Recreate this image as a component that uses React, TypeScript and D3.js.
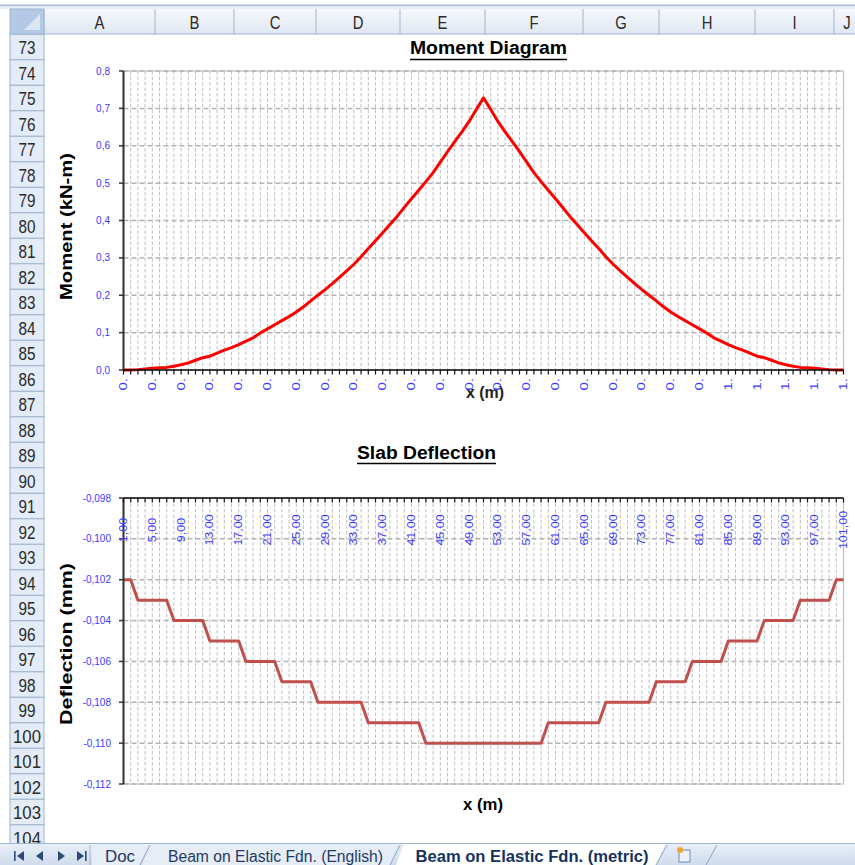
import React from "react";
import * as d3 from "d3";

// ---- sheet frame ----
const rowNumbers = d3.range(73, 105);
const columnLetters = ["A", "B", "C", "D", "E", "F", "G", "H", "I", "J"];
const columnEdges = [44, 155, 234, 316, 400, 485, 583, 659, 755, 834, 860];
const sheetTabs = ["Doc", "Beam on Elastic Fdn. (English)", "Beam on Elastic Fdn. (metric)"];

// ---- Moment Diagram (kN-m), 101 stations along the beam ----
const momentValues = [
  0.000, 0.000, 0.001, 0.003, 0.005, 0.006, 0.007, 0.010, 0.014, 0.019,
  0.026, 0.033, 0.037, 0.045, 0.053, 0.060, 0.068, 0.077, 0.086, 0.099,
  0.110, 0.121, 0.132, 0.143, 0.155, 0.169, 0.185, 0.200, 0.215, 0.231,
  0.248, 0.265, 0.283, 0.303, 0.325, 0.346, 0.367, 0.389, 0.411, 0.435,
  0.458, 0.481, 0.504, 0.528, 0.556, 0.584, 0.611, 0.637, 0.665, 0.697,
  0.728,
  0.697, 0.665, 0.637, 0.611, 0.584, 0.556, 0.528, 0.504, 0.481, 0.458,
  0.435, 0.411, 0.389, 0.367, 0.346, 0.325, 0.303, 0.283, 0.265, 0.248,
  0.231, 0.215, 0.200, 0.185, 0.169, 0.155, 0.143, 0.132, 0.121, 0.110,
  0.099, 0.086, 0.077, 0.068, 0.060, 0.053, 0.045, 0.037, 0.033, 0.026,
  0.019, 0.014, 0.010, 0.007, 0.006, 0.005, 0.003, 0.001, 0.000, 0.000,
];
// truncated station labels, one every 4th station
const momentTickLabels = [
  "0.", "0.", "0.", "0.", "0.", "0.", "0.", "0.", "0.", "0.", "0.", "0.", "0.",
  "0.", "0.", "0.", "0.", "0.", "0.", "0.", "0.", "1.", "1.", "1.", "1.", "1.",
];
const momentYTicks = [0, 0.1, 0.2, 0.3, 0.4, 0.5, 0.6, 0.7, 0.8];

// ---- Slab Deflection (mm) ----
const deflectionValues = [
  -0.102, -0.102,
  -0.103, -0.103, -0.103, -0.103, -0.103,
  -0.104, -0.104, -0.104, -0.104, -0.104,
  -0.105, -0.105, -0.105, -0.105, -0.105,
  -0.106, -0.106, -0.106, -0.106, -0.106,
  -0.107, -0.107, -0.107, -0.107, -0.107,
  -0.108, -0.108, -0.108, -0.108, -0.108, -0.108, -0.108,
  -0.109, -0.109, -0.109, -0.109, -0.109, -0.109, -0.109, -0.109,
  -0.110, -0.110, -0.110, -0.110, -0.110, -0.110, -0.110, -0.110, -0.110,
  -0.110, -0.110, -0.110, -0.110, -0.110, -0.110, -0.110, -0.110,
  -0.109, -0.109, -0.109, -0.109, -0.109, -0.109, -0.109, -0.109,
  -0.108, -0.108, -0.108, -0.108, -0.108, -0.108, -0.108,
  -0.107, -0.107, -0.107, -0.107, -0.107,
  -0.106, -0.106, -0.106, -0.106, -0.106,
  -0.105, -0.105, -0.105, -0.105, -0.105,
  -0.104, -0.104, -0.104, -0.104, -0.104,
  -0.103, -0.103, -0.103, -0.103, -0.103,
  -0.102, -0.102,
];
const deflectionTickLabels = [
  "1,00", "5,00", "9,00", "13,00", "17,00", "21,00", "25,00", "29,00", "33,00",
  "37,00", "41,00", "45,00", "49,00", "53,00", "57,00", "61,00", "65,00", "69,00",
  "73,00", "77,00", "81,00", "85,00", "89,00", "93,00", "97,00", "101,00",
];
const deflectionYTicks = [-0.112, -0.110, -0.108, -0.106, -0.104, -0.102, -0.100, -0.098];

const FONT = "'Liberation Sans', Arial, sans-serif";
const BLUE = "#3b3bff";
const locale = d3.formatLocale({ decimal: ",", thousands: ".", grouping: [3], currency: ["", ""], minus: "-" });
const fmt1 = locale.format(".1f");
const fmt3 = locale.format(".3f");

const PL = 123.5;
const PR = 843.5;
const stations = d3.range(momentValues.length);

function ChartGrid({ top, bottom, y, ticks }: { top: number; bottom: number; y: (v: number) => number; ticks: number[] }) {
  const x = d3.scaleLinear().domain([0, stations.length - 1]).range([PL, PR]);
  return (
    <g>
      <rect x={PL} y={top} width={PR - PL} height={bottom - top} fill="#fff" stroke="#c2c2c2" strokeWidth={1.2} />
      {stations.map((s) => (
        <line key={"v" + s} x1={x(s)} x2={x(s)} y1={top} y2={bottom} stroke="#c0c0c0" strokeWidth={1} strokeDasharray="3.5,2" />
      ))}
      {ticks.map((t) => (
        <line key={"h" + t} x1={PL} x2={PR} y1={y(t)} y2={y(t)} stroke="#b3b3b3" strokeWidth={1.5} strokeDasharray="5,3" />
      ))}
    </g>
  );
}

export default function App() {
  const x = d3.scaleLinear().domain([0, stations.length - 1]).range([PL, PR]);
  const yM = d3.scaleLinear().domain([0, 0.8]).range([370, 71]);
  const yD = d3.scaleLinear().domain([-0.112, -0.098]).range([784, 498]);
  const momentLine = d3.line<number>().x((_, i) => x(i)).y((d) => yM(d));
  const deflectionLine = d3.line<number>().x((_, i) => x(i)).y((d) => yD(d));
  const rowTop = (r: number) => 34.3 + (r - 73) * 25.5;

  return (
    <svg width={855} height={865} style={{ position: "absolute", left: 0, top: 0, background: "#fff" }} fontFamily={FONT}>
      <defs>
        <linearGradient id="hdr" x1="0" y1="0" x2="0" y2="1">
          <stop offset="0" stopColor="#f6f9fc" />
          <stop offset="1" stopColor="#dfe7f1" />
        </linearGradient>
        <linearGradient id="tabbar" x1="0" y1="0" x2="0" y2="1">
          <stop offset="0" stopColor="#e9f0f9" />
          <stop offset="1" stopColor="#cfdbec" />
        </linearGradient>
        <clipPath id="sheetClip">
          <rect x={0} y={34} width={855} height={809} />
        </clipPath>
      </defs>

      {/* column header strip */}
      <rect x={0} y={4.5} width={855} height={1.5} fill="#a9bed8" />
      <rect x={0} y={6} width={855} height={3} fill="#e8eef7" />
      <rect x={10} y={9} width={845} height={25} fill="url(#hdr)" />
      <line x1={10} x2={855} y1={34} y2={34} stroke="#9eb6ce" />
      {columnLetters.map((c, i) => {
        const a = columnEdges[i];
        const b = columnEdges[i + 1];
        return (
          <g key={c}>
            <line x1={a} x2={a} y1={9} y2={34} stroke="#9eb6ce" />
            <text transform={`translate(${(a + b) / 2},28.5) scale(0.78,1)`} textAnchor="middle" fontSize={19} fill="#2a2a2a">
              {c}
            </text>
          </g>
        );
      })}
      {/* select-all corner */}
      <rect x={10} y={9} width={34} height={25} fill="#b4c9e5" stroke="#9eb6ce" />
      <path d="M40,14 L40,30 L24,30 Z" fill="#dde7f3" />

      {/* row header */}
      <g clipPath="url(#sheetClip)">
        {rowNumbers.map((r) => (
          <g key={r}>
            <rect x={10} y={rowTop(r)} width={34} height={25.5} fill="#e4ecf7" stroke="#9eb6ce" strokeWidth={1} />
            <text
              x={27}
              y={rowTop(r) + 20}
              textAnchor="middle"
              fontSize={19}
              fill="#2a2a2a"
              textLength={r >= 100 ? 28 : 17}
              lengthAdjust="spacingAndGlyphs"
            >
              {r}
            </text>
          </g>
        ))}
      </g>

      {/* ===== Moment Diagram ===== */}
      <text x={488.5} y={54} textAnchor="middle" fontSize={18} fontWeight="bold" textLength={157} lengthAdjust="spacingAndGlyphs">
        Moment Diagram
      </text>
      <line x1={410} x2={567} y1={59.5} y2={59.5} stroke="#000" strokeWidth={1.6} />
      <ChartGrid top={71} bottom={370} y={yM} ticks={momentYTicks} />
      <path d={momentLine(momentValues) || ""} fill="none" stroke="#ff0000" strokeWidth={3} strokeLinejoin="round" />
      {/* axes */}
      <line x1={PL} x2={PL} y1={71} y2={370} stroke="#333" strokeWidth={2} />
      {momentYTicks.map((t) => (
        <g key={"my" + t}>
          <line x1={PL - 4.5} x2={PL} y1={yM(t)} y2={yM(t)} stroke="#333" strokeWidth={1.5} />
          <text x={110} y={yM(t) + 3.5} textAnchor="end" fontSize={10} fill={BLUE}>
            {fmt1(t)}
          </text>
        </g>
      ))}
      <line x1={PL} x2={PR} y1={370} y2={370} stroke="#111" strokeWidth={1.6} />
      {stations.map((s) => (
        <line key={"mt" + s} x1={x(s)} x2={x(s)} y1={370} y2={374.5} stroke="#111" strokeWidth={1.2} />
      ))}
      <text transform="translate(72,226.5) rotate(-90)" textAnchor="middle" fontSize={16.5} fontWeight="bold" textLength={147} lengthAdjust="spacingAndGlyphs">
        Moment (kN-m)
      </text>
      <text x={485} y={398} textAnchor="middle" fontSize={16} fontWeight="bold" fill="#222" textLength={38} lengthAdjust="spacingAndGlyphs">
        x (m)
      </text>
      {momentTickLabels.map((lab, i) => (
        <text
          key={"ml" + i}
          transform={`translate(${x(i * 4) + 3.5},378) rotate(-90) scale(1.5,1)`}
          textAnchor="end"
          fontSize={10}
          fill={BLUE}
        >
          {lab}
        </text>
      ))}

      {/* ===== Slab Deflection ===== */}
      <text x={426.5} y={459} textAnchor="middle" fontSize={18} fontWeight="bold" textLength={139} lengthAdjust="spacingAndGlyphs">
        Slab Deflection
      </text>
      <line x1={357} x2={496} y1={463.5} y2={463.5} stroke="#000" strokeWidth={1.6} />
      <ChartGrid top={498} bottom={784} y={yD} ticks={deflectionYTicks} />
      <path d={deflectionLine(deflectionValues) || ""} fill="none" stroke="#c0504d" strokeWidth={3} strokeLinejoin="round" />
      <line x1={PL} x2={PL} y1={498} y2={784} stroke="#333" strokeWidth={2} />
      {deflectionYTicks.map((t) => (
        <g key={"dy" + t}>
          <line x1={PL - 4.5} x2={PL} y1={yD(t)} y2={yD(t)} stroke="#333" strokeWidth={1.5} />
          <text x={111} y={yD(t) + 3.5} textAnchor="end" fontSize={10} fill={BLUE}>
            {fmt3(t)}
          </text>
        </g>
      ))}
      <line x1={PL} x2={PR} y1={498} y2={498} stroke="#111" strokeWidth={1.6} />
      {stations.map((s) => (
        <line key={"dt" + s} x1={x(s)} x2={x(s)} y1={498} y2={502.5} stroke="#111" strokeWidth={1.2} />
      ))}
      {deflectionTickLabels.map((lab, i) => (
        <text
          key={"dl" + i}
          transform={`translate(${x(i * 4) + 3.5},530) rotate(-90) scale(1.25,1)`}
          textAnchor="middle"
          fontSize={10}
          fill={BLUE}
        >
          {lab}
        </text>
      ))}
      <text transform="translate(72,644) rotate(-90)" textAnchor="middle" fontSize={16.5} fontWeight="bold" textLength={162} lengthAdjust="spacingAndGlyphs">
        Deflection (mm)
      </text>
      <text x={483} y={810} textAnchor="middle" fontSize={16} fontWeight="bold" textLength={40} lengthAdjust="spacingAndGlyphs">
        x (m)
      </text>

      {/* ===== sheet tab bar ===== */}
      <rect x={0} y={843} width={855} height={22} fill="url(#tabbar)" />
      <line x1={0} x2={855} y1={843.5} y2={843.5} stroke="#9eb6ce" />
      <g fill="#2b4a78">
        <rect x={14} y={851} width={1.6} height={10} />
        <path d="M24,851 L17,856 L24,861 Z" />
        <path d="M43,851 L36,856 L43,861 Z" />
        <path d="M58,851 L65,856 L58,861 Z" />
        <path d="M77,851 L84,856 L77,861 Z" />
        <rect x={85} y={851} width={1.6} height={10} />
      </g>
      <line x1={90} x2={90} y1={845} y2={865} stroke="#9eb6ce" />
      <polygon points="92,845 148,845 140,865 92,865" fill="#e6edf6" />
      <polygon points="150,845 398,845 390,865 142,865" fill="#e6edf6" />
      <polygon points="404,844 666,844 656,865 396,865" fill="#ffffff" />
      <line x1={140} x2={150} y1={865} y2={845} stroke="#8aa3c4" />
      <line x1={390} x2={400} y1={865} y2={845} stroke="#8aa3c4" />
      <line x1={656} x2={667} y1={865} y2={845} stroke="#8aa3c4" />
      <line x1={706} x2={717} y1={865} y2={845} stroke="#8aa3c4" />
      <text x={120} y={862} textAnchor="middle" fontSize={16} fill="#1e3a64" textLength={30} lengthAdjust="spacingAndGlyphs">
        {sheetTabs[0]}
      </text>
      <text x={275.5} y={862} textAnchor="middle" fontSize={16} fill="#1e3a64" textLength={215} lengthAdjust="spacingAndGlyphs">
        {sheetTabs[1]}
      </text>
      <text x={532} y={862} textAnchor="middle" fontSize={16} fontWeight="bold" fill="#15335e" textLength={233} lengthAdjust="spacingAndGlyphs">
        {sheetTabs[2]}
      </text>
      {/* insert-sheet icon */}
      <rect x={679} y={850} width={11} height={12} fill="#eef3fa" stroke="#6f8db8" strokeWidth={1} />
      <circle cx={680} cy={850} r={3} fill="#f2a22a" />
    </svg>
  );
}
